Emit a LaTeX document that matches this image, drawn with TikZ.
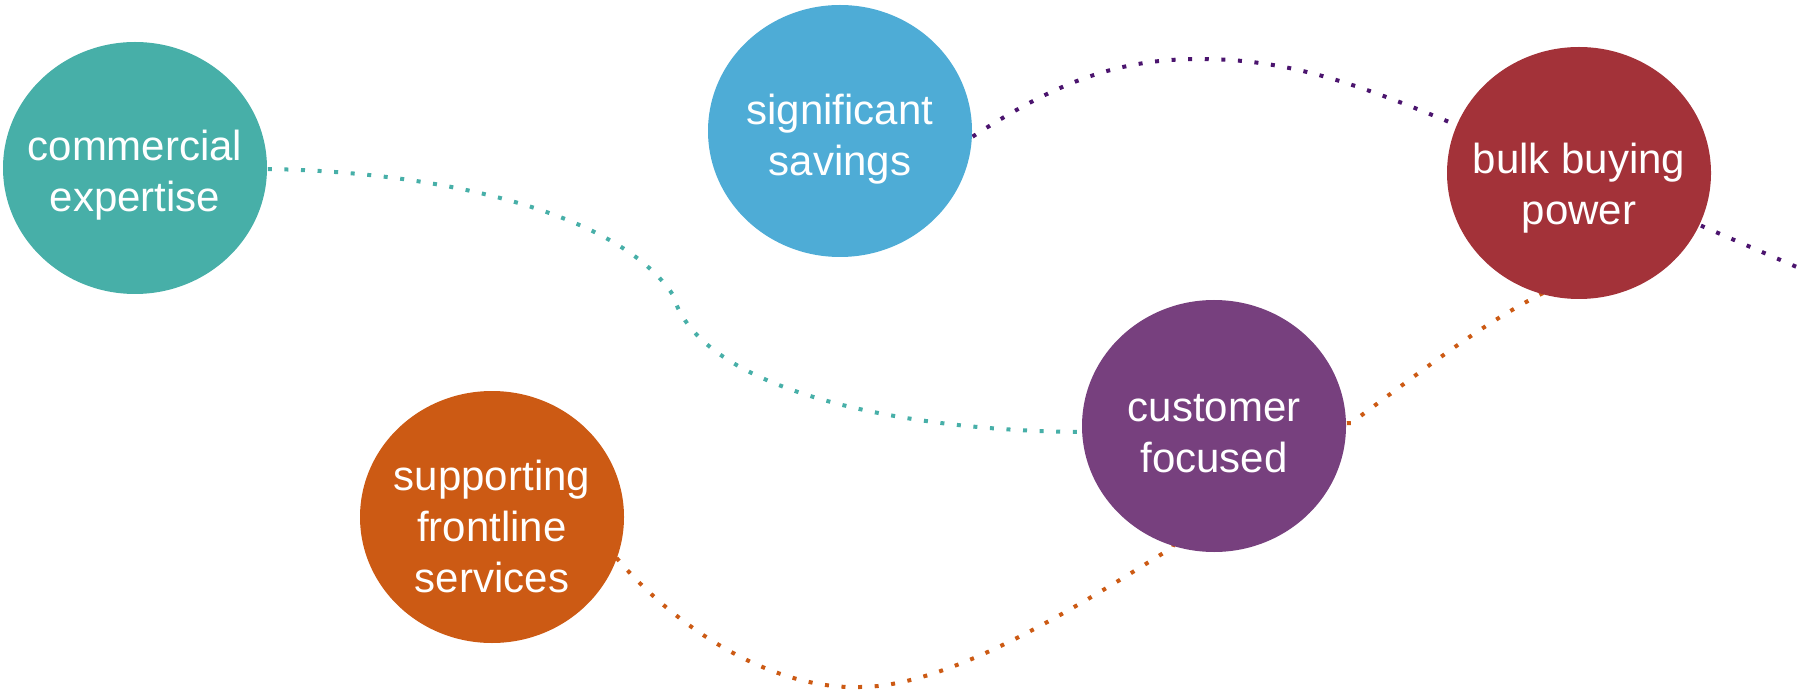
\documentclass[tikz,border=0pt]{standalone}
\usepackage{fontspec}
\setmainfont{Liberation Sans}
\usetikzlibrary{shapes.geometric,backgrounds}
\definecolor{cteal}{RGB}{71,175,168}
\definecolor{cblue}{RGB}{78,172,214}
\definecolor{cred}{RGB}{163,50,57}
\definecolor{cpurple}{RGB}{119,64,126}
\definecolor{corange}{RGB}{204,90,20}
\definecolor{cdark}{RGB}{75,20,110}
\tikzset{
  blob/.style={ellipse, minimum width=264pt, minimum height=252pt, inner sep=0pt, draw=none},
  lbl/.style={text=white, align=center, font=\fontsize{42pt}{51pt}\selectfont, inner sep=0pt},
  dots/.style={line width=4pt, dash pattern=on 4pt off 12.6pt},
}
\begin{document}
\begin{tikzpicture}[x=1pt,y=-1pt]
\useasboundingbox (0,0) rectangle (1806,692);
\node[blob, fill=cteal] (com) at (135,168) {};
\node[blob, fill=cblue] (sig) at (840,131) {};
\node[blob, fill=cred] (bulk) at (1579,173) {};
\node[blob, fill=cpurple] (cus) at (1214,426) {};
\node[blob, fill=corange] (sup) at (492,517) {};
\node[lbl] (comt) at (135,175) {commercial\\expertise};
\node[lbl] (sigt) at (840,139) {significant\\savings};
\node[lbl] (bulkt) at (1579,188) {bulk buying\\power};
\node[lbl] (cust) at (1214,434) {customer\\focused};
\node[lbl] (supt) at (492,526) {supporting\\frontline\\services};
\coordinate (off) at (1806,271);
\begin{pgfonlayer}{background}
\draw[dots, cteal] (com.center) -- (267,169) .. controls (450,172) and (620,215) .. (673,295)
  .. controls (700,390) and (900,431) .. (1082,432) -- (cus.center);
\draw[dots, cdark] (sig.center) -- (972,137) .. controls (1060,80) and (1120,59) .. (1200,59)
  .. controls (1290,59) and (1360,85) .. (1454,124) -- (bulk.center);
\draw[dots, cdark] (bulk.center) -- (off);
\draw[dots, corange] (sup.center) -- (610,550) .. controls (670,625) and (770,690) .. (860,687)
  .. controls (950,687) and (1080,605) .. (1173,547) -- (cus.center);
\draw[dots, corange] (cus.center) -- (1351,423) .. controls (1430,365) and (1480,325) .. (1545,292) -- (bulk.center);
\end{pgfonlayer}
\end{tikzpicture}
\end{document}
